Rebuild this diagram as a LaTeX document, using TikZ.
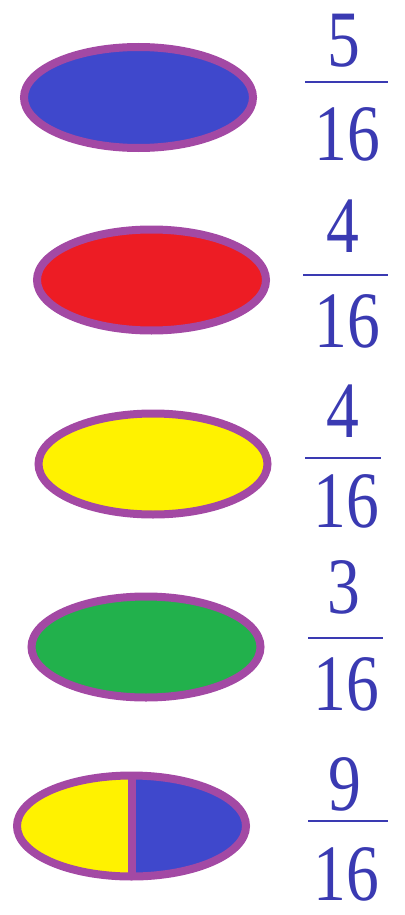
\documentclass[tikz,border=0pt]{standalone}
\usepackage{fontspec}
\setmainfont{Liberation Serif}
\usetikzlibrary{shapes.geometric}
\definecolor{pblue}{HTML}{3F48CC}
\definecolor{pred}{HTML}{ED1C24}
\definecolor{pyellow}{HTML}{FFF200}
\definecolor{pgreen}{HTML}{22B14C}
\definecolor{ppurple}{HTML}{A349A4}
\definecolor{txtblue}{RGB}{58,58,178}
\tikzset{
  oval/.style={ellipse, draw=ppurple, line width=8pt, minimum width=229pt, minimum height=101pt, inner sep=0pt},
  digits/.style={text=txtblue, font=\fontsize{80}{80}\selectfont, xscale=0.82, inner sep=0pt, anchor=base},
  fracbar/.style={draw=txtblue, line width=2.5pt}
}
\begin{document}
\begin{tikzpicture}[x=1pt,y=-1pt]
\useasboundingbox (0,0) rectangle (404,915);
% ellipses
\node[oval, fill=pblue] (e1) at (138.5,97.5) {};
\node[oval, fill=pred] (e2) at (151.5,280) {};
\node[oval, fill=pyellow] (e3) at (153,464) {};
\node[oval, fill=pgreen] (e4) at (146,647) {};
\node[oval, path picture={
   \fill[pyellow] (path picture bounding box.south west) rectangle (path picture bounding box.north);
   \fill[pblue] (path picture bounding box.south) rectangle (path picture bounding box.north east);
   \draw[ppurple, line width=8pt] (path picture bounding box.south) -- (path picture bounding box.north);
 }] (e5) at (131.5,826) {};
% fractions
\node[digits] (n1) at (344,67) {5};
\coordinate (b1l) at (305,82); \coordinate (b1r) at (388,82);
\draw[fracbar] (b1l) -- (b1r);
\node[digits] (d1) at (347,160) {16};

\node[digits] (n2) at (343,252) {4};
\coordinate (b2l) at (303,275); \coordinate (b2r) at (388,275);
\draw[fracbar] (b2l) -- (b2r);
\node[digits] (d2) at (347,347) {16};

\node[digits] (n3) at (343,437) {4};
\coordinate (b3l) at (305,458); \coordinate (b3r) at (381,458);
\draw[fracbar] (b3l) -- (b3r);
\node[digits] (d3) at (346,527) {16};

\node[digits] (n4) at (344,613) {3};
\coordinate (b4l) at (308,638); \coordinate (b4r) at (383,638);
\draw[fracbar] (b4l) -- (b4r);
\node[digits] (d4) at (346,710) {16};

\node[digits] (n5) at (345,810) {9};
\coordinate (b5l) at (308,821); \coordinate (b5r) at (388,821);
\draw[fracbar] (b5l) -- (b5r);
\node[digits] (d5) at (346,900) {16};
\end{tikzpicture}
\end{document}
